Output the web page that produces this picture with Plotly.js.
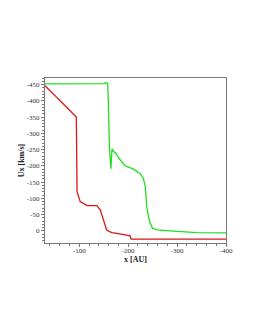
<!DOCTYPE html>
<html><head><meta charset="utf-8">
<script src="https://cdn.plot.ly/plotly-3.0.1.min.js"></script>
<style>html,body{margin:0;padding:0;background:#fff;}#chart{width:255px;height:330px;}</style>
</head><body><div id="chart"></div>
<script>
var redX = [-30,-38,-45,-53,-61,-70,-82,-94,-95,-95.5,-102,-110,-116,-126,-136,-143,-149,-156,-162,-167,-180,-200,-204,-206,-250,-300,-400];
var redY = [-446,-435,-425,-412,-400,-386,-367,-350,-200,-121,-90,-82,-78,-78,-78,-65,-34,-3,2,5,8,12,15,25,25,25,25];
var greenX = [-30,-120,-150,-155,-158,-159,-160,-162,-164.7,-167,-170,-175,-184,-194,-201,-211,-224,-231,-235,-238,-242,-245,-250,-260,-286,-340,-400];
var greenY = [-452,-452,-453,-456,-453,-420,-330,-250,-191,-252,-245,-238,-218,-200,-196,-190,-177,-162,-136,-75,-40,-24,-8,-3,0,5,6];
var yTicks = [-450,-400,-350,-300,-250,-200,-150,-100,-50,0];
var yTickText = ["-450","-400","-350","-300","-250","-200","-150","-100","-50","0"];
var xTicks = [-100,-200,-300,-400];
var xTickText = ["-100","-200","-300","-400"];

var data = [
  {x: greenX, y: greenY, mode: 'lines', line: {color: '#22dd22', width: 1.3}, hoverinfo: 'none'},
  {x: redX, y: redY, mode: 'lines', line: {color: '#dd1515', width: 1.3}, hoverinfo: 'none'}
];
var tickFont = {family: 'Liberation Serif, serif', size: 7, color: '#333'};
var layout = {
  width: 255, height: 330,
  margin: {l: 45, r: 29, t: 78, b: 87},
  paper_bgcolor: '#fff', plot_bgcolor: '#fff',
  showlegend: false,
  xaxis: {
    range: [-30, -400],
    tickvals: xTicks, ticktext: xTickText,
    ticks: 'outside', ticklen: 3, tickcolor: '#777', tickwidth: 1,
    ticklabelstandoff: -2,
    minor: {dtick: 20, tick0: 0, ticks: 'outside', ticklen: 2, tickcolor: '#777', showgrid: false},
    showgrid: false, zeroline: false,
    showline: true, linecolor: '#777', linewidth: 1, mirror: true,
    tickfont: tickFont,
    title: {text: '<b>x [AU]</b>', font: {family: 'Liberation Serif, serif', size: 8, color: '#222'}, standoff: 0}
  },
  yaxis: {
    range: [37, -470],
    tickvals: yTicks, ticktext: yTickText,
    ticks: 'outside', ticklen: 3, tickcolor: '#777', tickwidth: 1,
    minor: {dtick: 10, tick0: 0, ticks: 'outside', ticklen: 2, tickcolor: '#777', showgrid: false},
    showgrid: false, zeroline: false,
    showline: true, linecolor: '#777', linewidth: 1, mirror: true,
    tickfont: tickFont,
    title: {text: '<b>Ux [km/s]</b>', font: {family: 'Liberation Serif, serif', size: 8, color: '#222'}, standoff: 0}
  }
};
Plotly.newPlot('chart', data, layout, {staticPlot: true, displayModeBar: false});
</script></body></html>
